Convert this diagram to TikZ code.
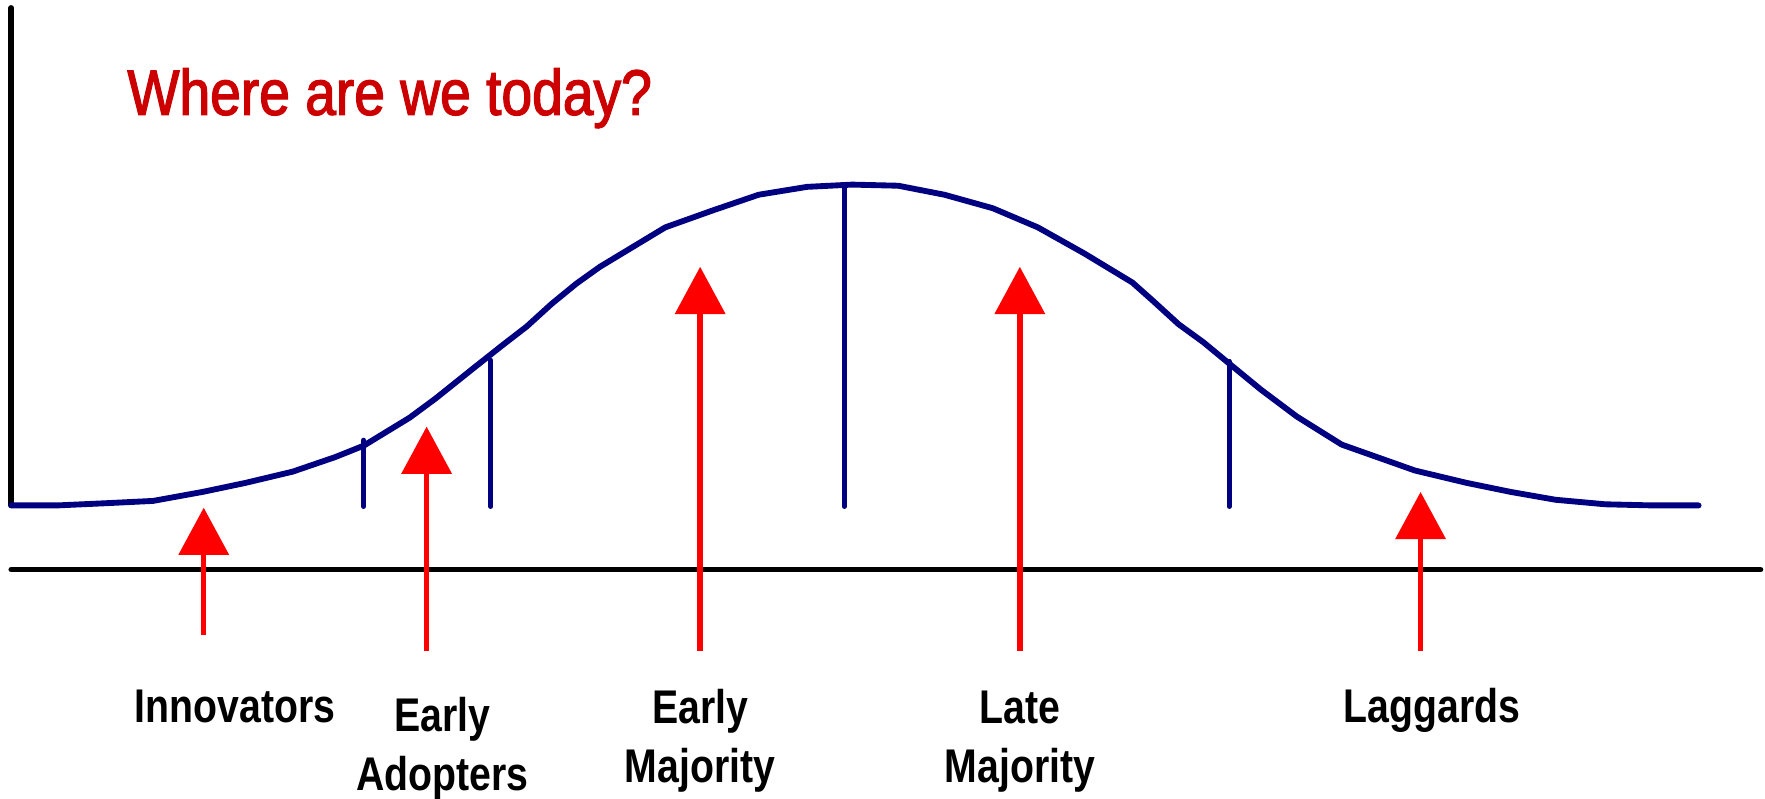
\documentclass[tikz,border=0pt]{standalone}
\usepackage{fontspec}
\usetikzlibrary{arrows.meta}
\newfontfamily\titlefont[FakeStretch=0.86,FakeBold=2]{Liberation Sans}
\newfontfamily\lblfont[FakeStretch=0.83]{Liberation Sans}
\definecolor{curvenavy}{HTML}{000080}
\definecolor{titlered}{HTML}{CC0000}
\definecolor{arrowred}{HTML}{FF0000}
\begin{document}
\begin{tikzpicture}[x=1pt,y=-1pt,
  axisline/.style={draw=black,line width=5pt,line cap=round},
  bellcurve/.style={draw=curvenavy,line width=5.2pt,line cap=round,line join=round},
  divider/.style={draw=curvenavy,line width=4.3pt,line cap=round},
  uparrow/.style={draw=arrowred,fill=arrowred,line width=4.8pt,
    -{Triangle[width=44pt,length=42pt]}},
  lbl/.style={font=\lblfont\bfseries\fontsize{42}{52}\selectfont,inner sep=0pt,align=center,anchor=base},
  ttl/.style={font=\titlefont\fontsize{57}{60}\selectfont,text=titlered,inner sep=0pt,anchor=base west}]
\useasboundingbox (0,0) rectangle (1568,709);
% axes
\coordinate (ytop) at (10,7);
\coordinate (yorig) at (10,449);
\coordinate (xleft) at (10,506);
\coordinate (xright) at (1564,506);
\draw[axisline] (ytop) -- (yorig);
\draw[axisline] (xleft) -- (xright);
% bell curve
\draw[bellcurve] (10,449) -- (51,449) -- (95,447) -- (136,445) -- (180,437) -- (218,429)
 -- (260,419) -- (298,406) -- (323,396) -- (364,371) -- (387,354) -- (422,326) -- (446,307)
 -- (468,290) -- (490,270) -- (512,252) -- (533,237) -- (591,202) -- (633,187) -- (674,173)
 -- (717,166) -- (757,164) -- (798,165) -- (839,173) -- (882,185) -- (922,202) -- (963,225)
 -- (1006,251) -- (1024,267) -- (1047,288) -- (1069,304) -- (1092,323) -- (1120,346)
 -- (1152,370) -- (1192,395) -- (1257,418) -- (1303,429) -- (1342,437) -- (1382,444)
 -- (1426,448) -- (1468,449) -- (1509,449);
% dividers
\coordinate (d1t) at (323,391); \coordinate (d1b) at (323,450);
\coordinate (d2t) at (436,320); \coordinate (d2b) at (436,450);
\coordinate (d3t) at (750,164); \coordinate (d3b) at (750,450);
\coordinate (d4t) at (1092,321); \coordinate (d4b) at (1092,450);
\draw[divider] (d1t) -- (d1b);
\draw[divider] (d2t) -- (d2b);
\draw[divider] (d3t) -- (d3b);
\draw[divider] (d4t) -- (d4b);
% arrows
\coordinate (a1s) at (181,564); \coordinate (a1t) at (181,451);
\coordinate (a2s) at (379,578); \coordinate (a2t) at (379,379);
\coordinate (a3s) at (622,578); \coordinate (a3t) at (622,237);
\coordinate (a4s) at (906,578); \coordinate (a4t) at (906,237);
\coordinate (a5s) at (1262,578); \coordinate (a5t) at (1262,437);
\draw[uparrow] (a1s) -- (a1t);
\draw[uparrow] (a2s) -- (a2t);
\draw[uparrow] (a3s) -- (a3t);
\draw[uparrow] (a4s) -- (a4t);
\draw[uparrow] (a5s) -- (a5t);
% title
\node[ttl] (title) at (113,102) {Where are we today?};
% labels (base anchor = baseline of the last line)
\node[lbl] (innov) at (209,642) {Innovators};
\node[lbl] (eadopt) at (393,702) {Early\\Adopters};
\node[lbl] (emaj) at (622,695) {Early\\Majority};
\node[lbl] (lmaj) at (906,695) {Late\\Majority};
\node[lbl] (lagg) at (1272,642) {Laggards};
\end{tikzpicture}
\end{document}
